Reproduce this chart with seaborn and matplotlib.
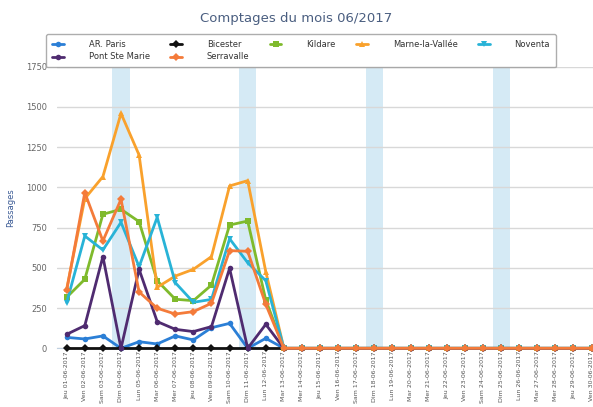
import matplotlib
matplotlib.use("Agg")
import matplotlib.pyplot as plt
import seaborn as sns
import pandas as pd

# jours de juin 2017 (le 1er est un jeudi)
jours_sem = ['Jeu', 'Ven', 'Sam', 'Dim', 'Lun', 'Mar', 'Mer']
dates = ['%s %02d-06-2017' % (jours_sem[i % 7], i + 1) for i in range(30)]
dimanches = [3, 10, 17, 24]

zeros = [0] * 17
ar_paris = [68, 58, 77, 0, 41, 27, 77, 52, 128, 155, 0, 62, 0] + zeros
bicester = [0] * 13 + zeros
kildare = [317, 429, 833, 864, 787, 420, 305, 296, 393, 766, 791, 300, 0] + zeros
marne = [370, 930, 1067, 1460, 1201, 379, 449, 491, 570, 1009, 1042, 476, 0] + zeros
noventa = [284, 698, 611, 783, 507, 814, 408, 286, 304, 681, 532, 420, 0] + zeros
pont_ste_marie = [87, 141, 570, 0, 491, 166, 118, 104, 135, 497, 0, 149, 0] + zeros
serravalle = [360, 968, 667, 926, 350, 249, 213, 228, 280, 607, 603, 273, 0] + zeros

noms = ['AR. Paris', 'Bicester', 'Kildare', 'Marne-la-Vallée', 'Noventa',
        'Pont Ste Marie', 'Serravalle']
series = [ar_paris, bicester, kildare, marne, noventa, pont_ste_marie, serravalle]
couleurs = ['#2b7fd6', '#111111', '#7fba2c', '#f9a12c', '#28b3d7', '#4f2b70', '#f47b3a']
marqueurs = ['o', 'D', 's', '^', 'v', 'o', 'D']

rows = []
for nom, vals in zip(noms, series):
    for i, v in enumerate(vals):
        rows.append({'jour': i, 'passages': v, 'site': nom})
df = pd.DataFrame(rows)

sns.set_style('white')
fig = plt.figure(figsize=(5.93, 4.07), dpi=100)
ax = fig.add_axes([0.096, 0.1442, 0.904, 0.6919])

for d in dimanches:
    ax.axvspan(d - 0.47, d + 0.47, color='#d5eaf5', zorder=0, lw=0)

sns.lineplot(data=df, x='jour', y='passages', hue='site', style='site',
             hue_order=noms, style_order=noms,
             palette=dict(zip(noms, couleurs)), markers=dict(zip(noms, marqueurs)),
             dashes=False, linewidth=2, markersize=4, markeredgewidth=0,
             legend=False, ax=ax, clip_on=False, zorder=3)

ax.set_ylim(0, 1750)
ax.set_xlim(-0.54, 29.08)
ax.set_yticks(range(0, 1751, 250))
ax.set_yticklabels([str(v) for v in range(0, 1751, 250)], fontsize=6, color='#666666')
ax.yaxis.grid(True, color='#d8d8d8', lw=1)
ax.set_xticks(range(30))
ax.set_xticklabels(dates, rotation=90, fontsize=4.5, color='#555555')
ax.tick_params(axis='x', length=0, pad=2)
ax.tick_params(axis='y', length=0, pad=7)
for s in ['top', 'right', 'left']:
    ax.spines[s].set_visible(False)
ax.spines['bottom'].set_color('#c0d0e0')
ax.set_xlabel('')
ax.set_ylabel('Passages', fontsize=6, color='#3a5a95', labelpad=8)

fig.suptitle('Comptages du mois 06/2017', x=0.5, y=0.97, fontsize=9.5, color='#4a5e80')

# ordre pour remplir la légende ligne par ligne (5 colonnes, 2 lignes)
ordre = [0, 5, 1, 6, 2, 3, 4]
handles = [plt.Line2D([], [], color=couleurs[i], marker=marqueurs[i], lw=2,
                      markersize=4, markeredgewidth=0) for i in ordre]
labels = [noms[i] for i in ordre]
leg = fig.legend(handles, labels, loc='upper left',
                 bbox_to_anchor=(42 / 593, 0.835, 518 / 593, 0.091), mode='expand',
                 ncol=5, fontsize=6, frameon=True, handlelength=1.4,
                 handletextpad=3.0, borderpad=0.7,
                 labelspacing=0.4, fancybox=True)
leg.get_frame().set_edgecolor('#999999')
leg.get_frame().set_linewidth(1)
for t in leg.get_texts():
    t.set_color('#333333')

fig.savefig('out.png', dpi=100)
